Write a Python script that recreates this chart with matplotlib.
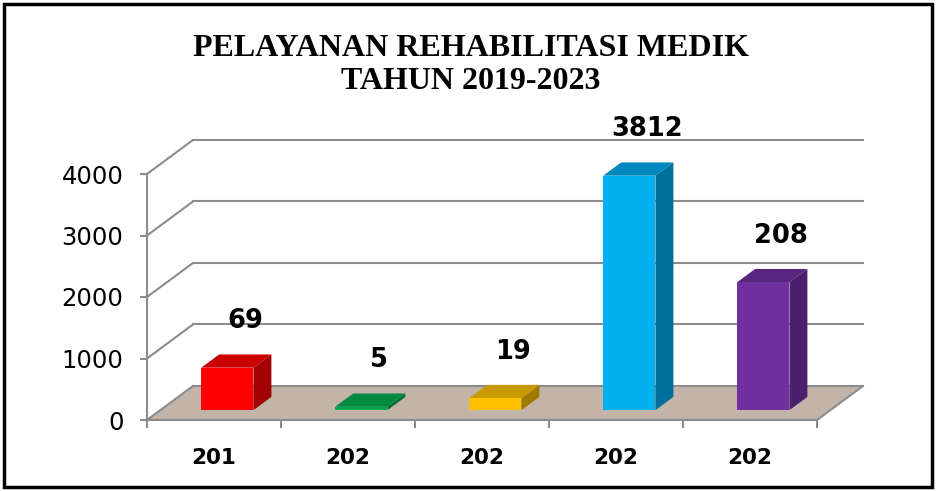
import matplotlib.pyplot as plt
from matplotlib.patches import Polygon, Rectangle

# chart data (labels in the source image are cut off, kept as they appear)
years = ["201", "202", "202", "202", "202"]
values = [690, 55, 195, 3812, 2080]
value_labels = ["69", "5", "19", "3812", "208"]
yticks = [0, 1000, 2000, 3000, 4000]
title = "PELAYANAN REHABILITASI MEDIK\nTAHUN 2019-2023"

front_colors = ["#FF0000", "#00A650", "#FFC000", "#00B0F0", "#7030A0"]
top_colors = ["#C80000", "#008A40", "#C89A00", "#0088BE", "#58257F"]
side_colors = ["#A00000", "#006E33", "#A07A00", "#006E9A", "#4A1F6B"]

# fake 3d layout: depth shift of the back wall, in data units
DX = 0.343
DY = 553
BAR_W = 0.39
D0, D1 = 0.29, 0.68  # bar front / back as fraction of the depth
GRID = "#8C8C8C"
FLOOR = "#C2B4A8"

fig = plt.figure(figsize=(9.36, 4.91), dpi=100)
ax = fig.add_axes([147 / 936, 71 / 491, 670 / 936, 246 / 491])
n = len(values)
ax.set_xlim(0, n)
ax.set_ylim(0, 4000)
ax.patch.set_visible(False)

# floor
ax.add_patch(Polygon([(0, 0), (n, 0), (n + DX, DY), (DX, DY)],
                     closed=True, facecolor=FLOOR, edgecolor="none",
                     clip_on=False, zorder=1))
ax.plot([n, n + DX], [0, DY], color=GRID, lw=1.5, clip_on=False, zorder=2)

# back wall gridlines and left wall diagonals
for v in yticks:
    ax.plot([DX, n + DX], [v + DY, v + DY], color=GRID, lw=1.5,
            clip_on=False, zorder=2)
    ax.plot([0, DX], [v, v + DY], color=GRID, lw=1.5, clip_on=False, zorder=2)

# bars
for i, v in enumerate(values):
    c = i + 0.5
    xl = c - BAR_W / 2 + D0 * DX
    xr = c + BAR_W / 2 + D0 * DX
    y0 = D0 * DY
    sx = (D1 - D0) * DX
    sy = (D1 - D0) * DY
    front = [(xl, y0), (xr, y0), (xr, y0 + v), (xl, y0 + v)]
    top = [(xl, y0 + v), (xr, y0 + v), (xr + sx, y0 + v + sy), (xl + sx, y0 + v + sy)]
    side = [(xr, y0), (xr + sx, y0 + sy), (xr + sx, y0 + v + sy), (xr, y0 + v)]
    for pts, col in ((side, side_colors[i]), (top, top_colors[i]), (front, front_colors[i])):
        ax.add_patch(Polygon(pts, closed=True, facecolor=col, edgecolor="none",
                             clip_on=False, zorder=3))
    ax.annotate(value_labels[i], xy=(c + D1 * DX, v + D1 * DY),
                xytext=(0, 24), textcoords="offset points",
                ha="center", va="center", fontsize=18.5, fontweight="bold",
                annotation_clip=False, zorder=4)

# axes look
for s in ("top", "right"):
    ax.spines[s].set_visible(False)
for s in ("left", "bottom"):
    ax.spines[s].set_color(GRID)
    ax.spines[s].set_linewidth(1.5)
ax.set_yticks(yticks)
ax.set_yticklabels([str(t) for t in yticks], fontsize=17.5)
ax.tick_params(axis="y", length=5, width=1.5, color=GRID, pad=12)
ax.set_xticks([i + 0.5 for i in range(n)])
ax.set_xticklabels(years, fontsize=15.5, fontweight="bold")
ax.set_xticks(range(n + 1), minor=True)
ax.tick_params(axis="x", which="major", length=0, pad=20)
ax.tick_params(axis="x", which="minor", length=6, width=1.5, color=GRID)

fig.text(0.503, 1 - 65 / 491, title, ha="center", va="center",
         family="Liberation Serif", fontweight="bold", fontsize=23,
         linespacing=1.2)

# outer frame
fig.add_artist(Rectangle((4 / 936, 4 / 491), 928 / 936, 483 / 491,
                         transform=fig.transFigure, fill=False,
                         edgecolor="black", lw=2.5))

fig.savefig("out.png", dpi=100)
